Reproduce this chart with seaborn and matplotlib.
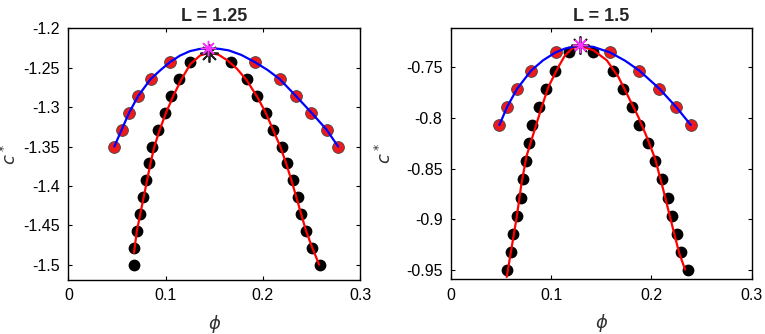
import numpy as np
import pandas as pd
import matplotlib
matplotlib.use('Agg')
import matplotlib.pyplot as plt
import seaborn as sns

# ---- L = 1.25 panel ----
c_black_125 = [-1.5, -1.4786, -1.4571, -1.4357, -1.4143, -1.3929, -1.3714, -1.35, -1.3286, -1.3071, -1.2857, -1.2643, -1.2429,
               -1.2429, -1.2643, -1.2857, -1.3071, -1.3286, -1.35, -1.3714, -1.3929, -1.4143, -1.4357, -1.4571, -1.4786, -1.5]
phi_black_125 = [0.068, 0.068, 0.0705, 0.0735, 0.077, 0.080, 0.083, 0.0865, 0.0925, 0.099, 0.106, 0.1135, 0.1255,
                 0.167, 0.1835, 0.194, 0.2035, 0.2105, 0.2193, 0.2248, 0.231, 0.2358, 0.2395, 0.2445, 0.2505, 0.2585]
c_red_125 = [-1.35, -1.3286, -1.3071, -1.2857, -1.2643, -1.2429, -1.2429, -1.2643, -1.2857, -1.3071, -1.3286, -1.35]
phi_red_125 = [0.0473, 0.0549, 0.0625, 0.0719, 0.0847, 0.1045, 0.1919, 0.2173, 0.234, 0.2501, 0.2656, 0.2775]
phi_blue_125 = [0.0473, 0.0549, 0.0625, 0.0719, 0.0847, 0.095, 0.1045, 0.115, 0.125, 0.135, 0.144, 0.155, 0.165,
                0.178, 0.1919, 0.205, 0.2173, 0.234, 0.2501, 0.2656, 0.2775]
c_blue_125 = [-1.35, -1.3286, -1.3071, -1.2857, -1.2643, -1.2528, -1.2429, -1.2345, -1.229, -1.2262, -1.2254, -1.226, -1.228,
              -1.2338, -1.2429, -1.2529, -1.2643, -1.2857, -1.3071, -1.3286, -1.35]
phi_fit_125 = [0.0675, 0.0705, 0.074, 0.0775, 0.081, 0.0845, 0.0885, 0.094, 0.1005, 0.108, 0.1165, 0.1255, 0.1355, 0.1449,
               0.1545, 0.1635, 0.1735, 0.1833, 0.1942, 0.203, 0.2105, 0.218, 0.224, 0.2295, 0.2345, 0.2395, 0.2445, 0.251, 0.258]
c_fit_125 = [-1.485, -1.4571, -1.4357, -1.4143, -1.3929, -1.3714, -1.35, -1.3286, -1.3071, -1.2857, -1.2643, -1.2455, -1.2345,
             -1.231, -1.2335, -1.2405, -1.2514, -1.2656, -1.2868, -1.3071, -1.3286, -1.35, -1.3714, -1.3929, -1.4143, -1.4357,
             -1.4571, -1.4786, -1.5]
star_black_125 = (0.1449, -1.231)
star_mag_125 = (0.1439, -1.2254)

# ---- L = 1.5 panel ----
c_black_15 = [-0.95, -0.9321, -0.9143, -0.8964, -0.8786, -0.8607, -0.8429, -0.825, -0.8071, -0.7893, -0.7714, -0.7536, -0.7357,
              -0.7357, -0.7536, -0.7714, -0.7893, -0.8071, -0.825, -0.8429, -0.8607, -0.8786, -0.8964, -0.9143, -0.9321, -0.95]
phi_black_15 = [0.0558, 0.0598, 0.0624, 0.0658, 0.0698, 0.0721, 0.0755, 0.0785, 0.0815, 0.0882, 0.095, 0.1035, 0.1175,
                0.1422, 0.1615, 0.1715, 0.1805, 0.188, 0.197, 0.204, 0.2105, 0.2165, 0.2205, 0.2255, 0.2295, 0.2365]
c_red_15 = [-0.8071, -0.7893, -0.7714, -0.7536, -0.7357, -0.7357, -0.7536, -0.7714, -0.7893, -0.8071]
phi_red_15 = [0.0485, 0.0562, 0.0662, 0.0801, 0.1045, 0.1588, 0.188, 0.208, 0.2246, 0.2393]
phi_blue_15 = [0.0485, 0.0562, 0.0662, 0.0801, 0.092, 0.1045, 0.114, 0.129, 0.1422, 0.1588, 0.174, 0.188, 0.208, 0.2246, 0.2393]
c_blue_15 = [-0.8071, -0.7893, -0.7714, -0.7536, -0.7435, -0.7357, -0.7319, -0.7288, -0.7303, -0.7357, -0.744, -0.7536,
             -0.7714, -0.7893, -0.8071]
phi_fit_15 = [0.0558, 0.0608, 0.0658, 0.0705, 0.0755, 0.0835, 0.0907, 0.0973, 0.1073, 0.114, 0.1215, 0.129, 0.1422, 0.1555,
              0.1671, 0.1771, 0.187, 0.1954, 0.2037, 0.212, 0.2186, 0.2236, 0.2279, 0.2336]
c_fit_15 = [-0.9567, -0.9272, -0.8976, -0.8648, -0.838, -0.8123, -0.7894, -0.7697, -0.75, -0.7385, -0.7315, -0.7292, -0.7336,
            -0.7434, -0.7598, -0.7795, -0.7992, -0.8189, -0.8402, -0.8714, -0.8976, -0.9173, -0.9337, -0.9494]
star_black_15 = (0.129, -0.7287)
star_mag_15 = (0.1285, -0.7285)

titles = ['L = 1.25', 'L = 1.5']
x_ticks = [0, 0.1, 0.2, 0.3]
x_ticklabels = ['0', '0.1', '0.2', '0.3']
y_ticks_125 = [-1.5, -1.45, -1.4, -1.35, -1.3, -1.25, -1.2]
y_ticklabels_125 = ['-1.5', '-1.45', '-1.4', '-1.35', '-1.3', '-1.25', '-1.2']
y_ticks_15 = [-0.95, -0.9, -0.85, -0.8, -0.75]
y_ticklabels_15 = ['-0.95', '-0.9', '-0.85', '-0.8', '-0.75']

sns.set_style('white')
plt.rcParams['font.family'] = ['Liberation Sans', 'DejaVu Sans']
plt.rcParams['mathtext.fontset'] = 'dejavusans'

fig = plt.figure(figsize=(7.65, 3.34), dpi=100)
ax1 = fig.add_axes([0.0893, 0.1625, 0.3813, 0.7527])
ax2 = fig.add_axes([0.5892, 0.1637, 0.3934, 0.7515])

panels = [
    (ax1, phi_black_125, c_black_125, phi_red_125, c_red_125, phi_blue_125, c_blue_125, phi_fit_125, c_fit_125,
     star_black_125, star_mag_125, (-1.519, -1.2), y_ticks_125, y_ticklabels_125, titles[0], -0.165),
    (ax2, phi_black_15, c_black_15, phi_red_15, c_red_15, phi_blue_15, c_blue_15, phi_fit_15, c_fit_15,
     star_black_15, star_mag_15, (-0.959, -0.712), y_ticks_15, y_ticklabels_15, titles[1], -0.185),
]

for (ax, pb, cb, pr, cr, pbl, cbl, pf, cf, sb, sm, ylim, yt, ytl, title, ylab_x) in panels:
    sns.scatterplot(x=pb, y=cb, ax=ax, color='black', s=72, linewidth=0, zorder=2)
    sns.scatterplot(x=pr, y=cr, ax=ax, color='#ee1a1a', s=72, edgecolor='#444444', linewidth=0.6, zorder=2)
    sns.lineplot(x=pf, y=cf, ax=ax, color='#ff0000', lw=1.6, sort=False, estimator=None, zorder=3)
    sns.lineplot(x=pbl, y=cbl, ax=ax, color='#0000ff', lw=1.6, sort=False, estimator=None, zorder=3)
    ax.plot([sb[0]], [sb[1]], marker=(8, 2, 0), ms=13, mew=1.3, color='#222222', ls='none', zorder=4)
    ax.plot([sm[0]], [sm[1]], marker=(8, 2, 0), ms=11, mew=1.0, color='#ff33ff', ls='none', zorder=5)

    ax.set_xlim(0, 0.3)
    ax.set_ylim(*ylim)
    ax.set_xticks(x_ticks)
    ax.set_xticklabels(x_ticklabels)
    ax.set_yticks(yt)
    ax.set_yticklabels(ytl)
    ax.tick_params(direction='in', length=3, width=0.8, labelsize=11.5, colors='black',
                   top=True, right=True, bottom=True, left=True, pad=6)
    for sp in ax.spines.values():
        sp.set_color('black')
        sp.set_linewidth(1.0)
    ax.set_title(title, fontsize=13, fontweight='bold', pad=5)
    ax.set_xlabel(r'$\phi$', fontsize=13, color='#333333', labelpad=7)
    ax.set_ylabel(r'$c^*$', fontsize=13, color='#333333')
    ax.yaxis.set_label_coords(ylab_x, 0.5)

fig.savefig('out.png', dpi=100)
